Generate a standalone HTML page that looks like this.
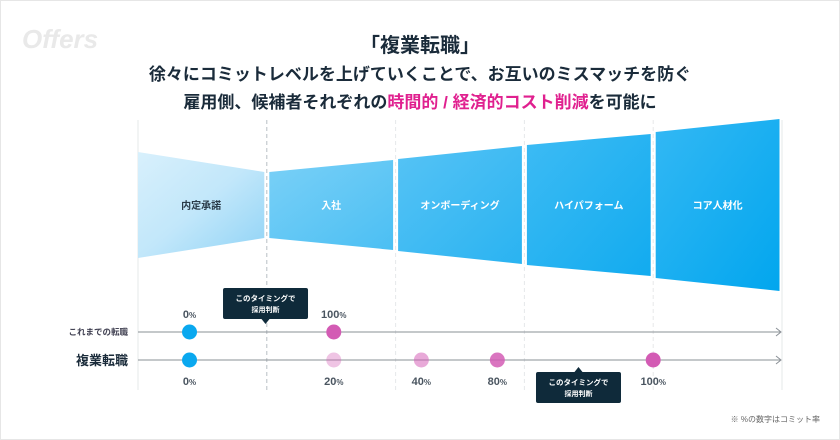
<!DOCTYPE html>
<html><head><meta charset="utf-8"><style>
html,body{margin:0;padding:0;background:#fff}
svg{display:block;font-family:"Liberation Sans","Noto Sans CJK JP",sans-serif}
</style></head><body>
<svg id="chart" width="840" height="440" viewBox="0 0 840 440">
<defs>
<linearGradient id="g1" x1="0" y1="0" x2="1" y2="1"><stop offset="0" stop-color="#d8f0fc"/><stop offset="0.5" stop-color="#c2e7fa"/><stop offset="1" stop-color="#8fd3f6"/></linearGradient>
<linearGradient id="g2" x1="0" y1="0" x2="1" y2="1"><stop offset="0" stop-color="#7ad0f7"/><stop offset="1" stop-color="#4bbff3"/></linearGradient>
<linearGradient id="g3" x1="0" y1="0" x2="1" y2="1"><stop offset="0" stop-color="#56c3f5"/><stop offset="1" stop-color="#2ab3f1"/></linearGradient>
<linearGradient id="g4" x1="0" y1="0" x2="1" y2="1"><stop offset="0" stop-color="#3dbbf4"/><stop offset="1" stop-color="#12abef"/></linearGradient>
<linearGradient id="g5" x1="0" y1="0" x2="1" y2="1"><stop offset="0" stop-color="#33b8f4"/><stop offset="1" stop-color="#02a6ee"/></linearGradient>
</defs>
<rect x="0.5" y="0.5" width="839" height="439" fill="#fff" stroke="#e6e6e6"/>
<text x="22" y="48" font-size="26" font-style="italic" font-weight="bold" fill="#e9e9e9">Offers</text>
<text x="420" y="52" text-anchor="middle" font-size="20" font-weight="bold" fill="#1a2b3a">「複業転職」</text>
<text x="420" y="80" text-anchor="middle" font-size="17" font-weight="bold" fill="#1a2b3a">徐々にコミットレベルを上げていくことで、お互いのミスマッチを防ぐ</text>
<text x="420" y="108" text-anchor="middle" font-size="17" font-weight="bold" fill="#1a2b3a">雇用側、候補者それぞれの<tspan fill="#e0208f">時間的 / 経済的コスト削減</tspan>を可能に</text>
<g id="grid"></g>
<g id="funnel"></g>
<g id="timeline"></g>
<text x="820" y="422" text-anchor="end" font-size="8" fill="#666">※ %の数字はコミット率</text>
</svg>
<script>
const stages = ["内定承諾","入社","オンボーディング","ハイパフォーム","コア人材化"];
const halfHeightsStart = [53, 33, 46, 60, 73];
const halfHeightsEnd = [33, 45, 59, 71, 86];
const rowLabels = ["これまでの転職","複業転職"];
const row1Stage = [0.4, 1.52];
const row1Commit = [0, 100];
const row2Stage = [0.4, 1.52, 2.2, 2.79, 4.0];
const row2Commit = [0, 20, 40, 80, 100];
const decisionStage = [0.99, 3.42];

const NS="http://www.w3.org/2000/svg";
const X0=138, X1=782, CY=205;
const sw=(X1-X0)/stages.length;
const xs=u=>X0+u*sw;
function mk(tag,attrs,parent){const e=document.createElementNS(NS,tag);for(const k in attrs)e.setAttribute(k,attrs[k]);parent.appendChild(e);return e;}
const grid=document.getElementById('grid'),fun=document.getElementById('funnel'),tl=document.getElementById('timeline');
for(let i=0;i<=stages.length;i++){
  const x=xs(i);
  const l=mk('line',{x1:x,x2:x,y1:120,y2:390,stroke:i===1?'#b8bec4':'#e6e8ea','stroke-dasharray':(i===0||i===stages.length)?'none':'4 3','stroke-width':1},grid);
  
  
}
stages.forEach((s,i)=>{
  const a=xs(i)+(i?2.5:0), b=xs(i+1)-2.5;
  const h0=halfHeightsStart[i], h1=halfHeightsEnd[i];
  const p=mk('polygon',{points:`${a},${CY-h0} ${b},${CY-h1} ${b},${CY+h1} ${a},${CY+h0}`,fill:`url(#g${i+1})`},fun);
  
  
  const t=mk('text',{x:(a+b)/2,y:CY+4,'text-anchor':'middle','font-size':10,'font-weight':'bold',fill:i===0?'#2a3a48':'#fff'},fun);
  t.textContent=s;
  
  
});
const rowY=[332,360];
rowLabels.forEach((r,i)=>{
  const y=rowY[i];
  const ln=mk('line',{x1:X0,x2:X1-2,y1:y,y2:y,stroke:'#8a9096','stroke-width':1},tl);
  
  
  const ar=mk('polyline',{points:`${X1-6},${y-4} ${X1-1},${y} ${X1-6},${y+4}`,fill:'none',stroke:'#8a9096','stroke-width':1},tl);
  
  
  const t=mk('text',{x:128,y:y+(i?5:3),'text-anchor':'end','font-size':i?13:8.5,'font-weight':'bold',fill:i?'#1a2b3a':'#445'},tl);
  t.textContent=r;
  
  
});
function dot(u,v,y,ly){
  const x=xs(u);
  const c=mk('circle',{cx:x,cy:y,r:7.5,fill:v===0?'#0aa8ef':'#d35bb4','fill-opacity':v===0?1:(0.2+0.8*v/100)},tl);
  
  
  const t=mk('text',{x:x,y:ly,'text-anchor':'middle','font-size':11,'font-weight':'bold',fill:'#4a5560'},tl);
  t.innerHTML=v+'<tspan font-size="8">%</tspan>';
  
  
}
row1Stage.forEach((u,i)=>dot(u,row1Commit[i],rowY[0],318));
row2Stage.forEach((u,i)=>dot(u,row2Commit[i],rowY[1],385));
function tip(u,up){
  const x=xs(u), w=85, h=31;
  const y=up?372:288;
  const g=mk('g',{},tl);
  
  
  mk('rect',{x:x-w/2,y:y,width:w,height:h,rx:2,fill:'#0f2a3a'},g);
  mk('polygon',{points:up?`${x-4},${y} ${x+4},${y} ${x},${y-5}`:`${x-4},${y+h} ${x+4},${y+h} ${x},${y+h+5}`,fill:'#0f2a3a'},g);
  const t1=mk('text',{x:x,y:y+13,'text-anchor':'middle','font-size':7.5,'font-weight':'bold',fill:'#fff'},g);t1.textContent='このタイミングで';
  const t2=mk('text',{x:x,y:y+24,'text-anchor':'middle','font-size':7,'font-weight':'bold',fill:'#fff'},g);t2.textContent='採用判断';
}
tip(decisionStage[0],false);
tip(decisionStage[1],true);
</script>
</body></html>
